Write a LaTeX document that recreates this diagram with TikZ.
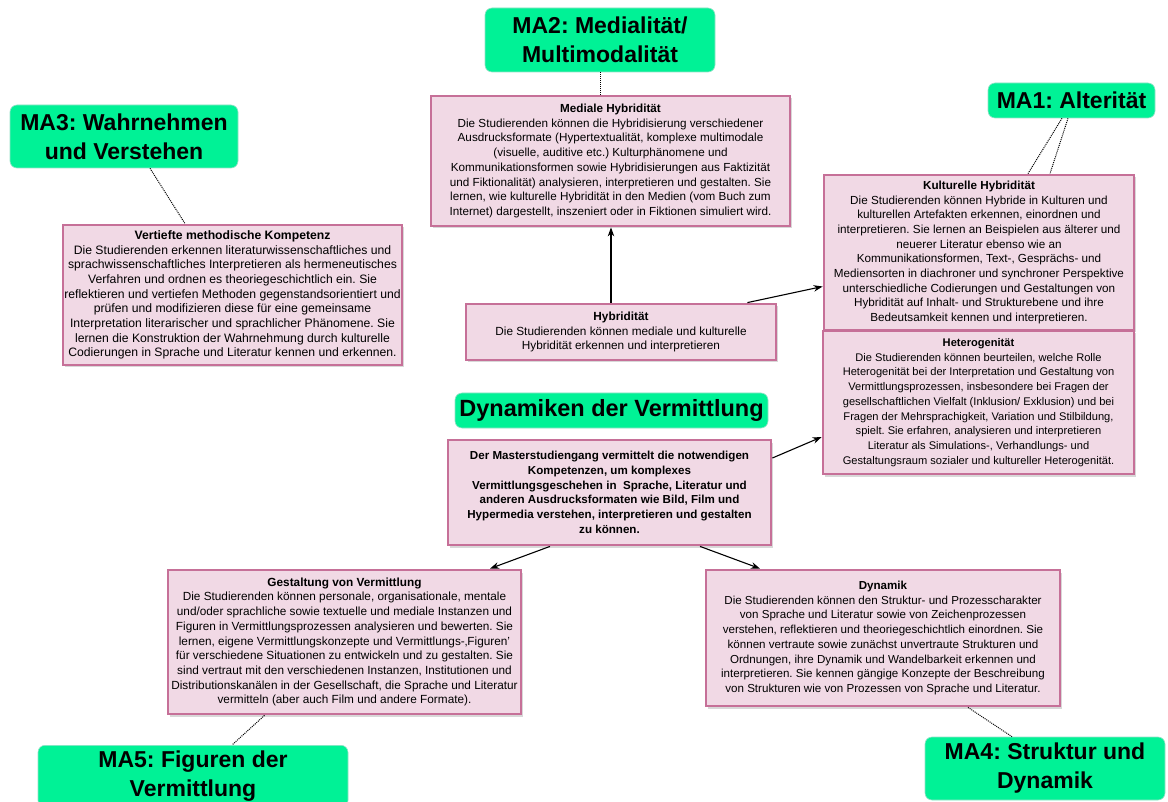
\documentclass[tikz,border=0pt]{standalone}
\usepackage{fontspec}
\setmainfont{Liberation Sans}
\frenchspacing
\usetikzlibrary{shadows,arrows.meta,backgrounds}
\definecolor{mint}{RGB}{0,242,150}
\definecolor{mintb}{RGB}{150,225,200}
\definecolor{pinkb}{RGB}{198,112,152}
\definecolor{pinkf}{RGB}{241,217,229}
\tikzset{
  label/.style={rounded corners=7pt, fill=mint, draw=mintb, line width=0.6pt,
    align=center, inner sep=0pt, font=\bfseries\fontsize{23}{29}\selectfont},
  info/.style={draw=pinkb, line width=2.8pt, fill=pinkf, align=center, inner sep=0pt,
    drop shadow={shadow xshift=2pt, shadow yshift=-2.5pt, opacity=0.3}},
  fs/.style={font=\fontsize{#1}{14.7}\selectfont},
  bfs/.style={font=\bfseries\fontsize{#1}{14.7}\selectfont},
  arr/.style={line width=1.1pt, -{Stealth[length=9pt,width=6.5pt]}},
  dots/.style={line width=1pt, densely dotted},
}
\begin{document}
\begin{tikzpicture}[x=1pt,y=-1pt]
\useasboundingbox (0,0) rectangle (1168,802);
\fill[white] (0,0) rectangle (1168,802);
\begin{scope}
\clip (0,0) rectangle (1168,802);
% green labels
\node[label, minimum width=230, minimum height=64] (ma2) at (600,40) {MA2: Medialität/\\Multimodalität};
\node[label, minimum width=167, minimum height=35] (ma1) at (1071.5,100.5) {MA1: Alterität};
\node[label, minimum width=228, minimum height=63] (ma3) at (124,136.5) {MA3: Wahrnehmen\\und Verstehen};
\node[label, minimum width=310, minimum height=62, anchor=north] (ma5) at (193,745) {MA5: Figuren der\\Vermittlung};
\node[label, minimum width=240, minimum height=63] (ma4) at (1045,768.5) {MA4: Struktur und\\Dynamik};
% info boxes
\node[info, fs=11.7, minimum width=359, minimum height=130] (med) at (610.5,161) {\textbf{Mediale Hybridität}\\
Die Studierenden können die Hybridisierung verschiedener\\
Ausdrucksformate (Hypertextualität, komplexe multimodale\\
(visuelle, auditive etc.) Kulturphänomene und\\
Kommunikationsformen sowie Hybridisierungen aus Faktizität\\
und Fiktionalität) analysieren, interpretieren und gestalten. Sie\\
lernen, wie kulturelle Hybridität in den Medien (vom Buch zum\\
Internet) dargestellt, inszeniert oder in Fiktionen simuliert wird.};
\node[info, fs=11.7, minimum width=310, minimum height=155] (kul) at (979,252.5) {\textbf{Kulturelle Hybridität}\\
Die Studierenden können Hybride in Kulturen und\\
kulturellen Artefakten erkennen, einordnen und\\
interpretieren. Sie lernen an Beispielen aus älterer und\\
neuerer Literatur ebenso wie an\\
Kommunikationsformen, Text-, Gesprächs- und\\
Mediensorten in diachroner und synchroner Perspektive\\
unterschiedliche Codierungen und Gestaltungen von\\
Hybridität auf Inhalt- und Strukturebene und ihre\\
Bedeutsamkeit kennen und interpretieren.};
\node[info, fs=12.2, minimum width=339, minimum height=140] (ver) at (232.5,295) {\textbf{Vertiefte methodische Kompetenz}\\
Die Studierenden erkennen literaturwissenschaftliches und\\
sprachwissenschaftliches Interpretieren als hermeneutisches\\
Verfahren und ordnen es theoriegeschichtlich ein. Sie\\
reflektieren und vertiefen Methoden gegenstandsorientiert und\\
prüfen und modifizieren diese für eine gemeinsame\\
Interpretation literarischer und sprachlicher Phänomene. Sie\\
lernen die Konstruktion der Wahrnehmung durch kulturelle\\
Codierungen in Sprache und Literatur kennen und erkennen.};
\node[info, fs=11.8, minimum width=310, minimum height=56] (hyb) at (621,332) {\textbf{Hybridität}\\
Die Studierenden können mediale und kulturelle\\
Hybridität erkennen und interpretieren};
\node[info, fs=11.1, minimum width=311, minimum height=143] (het) at (978.5,402.5) {\textbf{Heterogenität}\\
Die Studierenden können beurteilen, welche Rolle\\
Heterogenität bei der Interpretation und Gestaltung von\\
Vermittlungsprozessen, insbesondere bei Fragen der\\
gesellschaftlichen Vielfalt (Inklusion/ Exklusion) und bei\\
Fragen der Mehrsprachigkeit, Variation und Stilbildung,\\
spielt. Sie erfahren, analysieren und interpretieren\\
Literatur als Simulations-, Verhandlungs- und\\
Gestaltungsraum sozialer und kultureller Heterogenität.};
\node[info, bfs=11.6, minimum width=323, minimum height=105] (cen) at (609.5,492.5) {Der Masterstudiengang vermittelt die notwendigen\\
Kompetenzen, um komplexes\\
Vermittlungsgeschehen in~ Sprache, Literatur und\\
anderen Ausdrucksformaten wie Bild, Film und\\
Hypermedia verstehen, interpretieren und gestalten\\
zu können.};
\node[info, fs=11.8, minimum width=353, minimum height=144] (ges) at (344.5,642) {\textbf{Gestaltung von Vermittlung}\\
Die Studierenden können personale, organisationale, mentale\\
und/oder sprachliche sowie textuelle und mediale Instanzen und\\
Figuren in Vermittlungsprozessen analysieren und bewerten. Sie\\
lernen, eigene Vermittlungskonzepte und Vermittlungs-‚Figuren’\\
für verschiedene Situationen zu entwickeln und zu gestalten. Sie\\
sind vertraut mit den verschiedenen Instanzen, Institutionen und\\
Distributionskanälen in der Gesellschaft, die Sprache und Literatur\\
vermitteln (aber auch Film und andere Formate).};
\node[info, fs=11.6, minimum width=354, minimum height=136] (dyk) at (883,638) {\textbf{Dynamik}\\
Die Studierenden können den Struktur- und Prozesscharakter\\
von Sprache und Literatur sowie von Zeichenprozessen\\
verstehen, reflektieren und theoriegeschichtlich einordnen. Sie\\
können vertraute sowie zunächst unvertraute Strukturen und\\
Ordnungen, ihre Dynamik und Wandelbarkeit erkennen und\\
interpretieren. Sie kennen gängige Konzepte der Beschreibung\\
von Strukturen wie von Prozessen von Sprache und Literatur.};
% central title
\node[label, minimum width=313, minimum height=35, font=\bfseries\fontsize{23.5}{26}\selectfont] (tit) at (611.5,410.5) {Dynamiken der Vermittlung};
% connectors behind the title
\begin{scope}[on background layer]
\draw[arr] ([xshift=-95pt]cen.north) -- ([xshift=140pt]ver.south);
\draw[arr] ([xshift=1.5pt]cen.north) -- ([xshift=-10pt]hyb.south);
\end{scope}
% other connectors
\draw[arr] ([xshift=-10pt]hyb.north) -- ([xshift=0.5pt]med.south);
\draw[arr] ([xshift=-30pt]hyb.north east) -- ([yshift=-34pt]kul.west);
\draw[arr] ([yshift=34.5pt]cen.east) -- ([yshift=-34.5pt]het.west);
\draw[arr] ([xshift=-59.5pt]cen.south) -- ([xshift=145.5pt]ges.north);
\draw[arr] ([xshift=90.5pt]cen.south) -- ([xshift=-123pt]dyk.north);
% dotted links to module labels
\draw[dots] (ma2.south) -- ([xshift=-10.5pt]med.north);
\draw[dots] ([xshift=26pt]ma3.south) -- ([xshift=-47.5pt]ver.north);
\draw[dots] ([xshift=-9.5pt]ma1.south) -- ([xshift=49pt]kul.north);
\draw[dots] ([xshift=-3.5pt]ma1.south) -- ([xshift=71pt]kul.north);
\draw[dots] ([xshift=-80pt]ges.south) -- ([xshift=39pt]ma5.north);
\draw[dots] ([xshift=85pt]dyk.south) -- ([xshift=-33pt]ma4.north);
\end{scope}
\end{tikzpicture}
\end{document}
